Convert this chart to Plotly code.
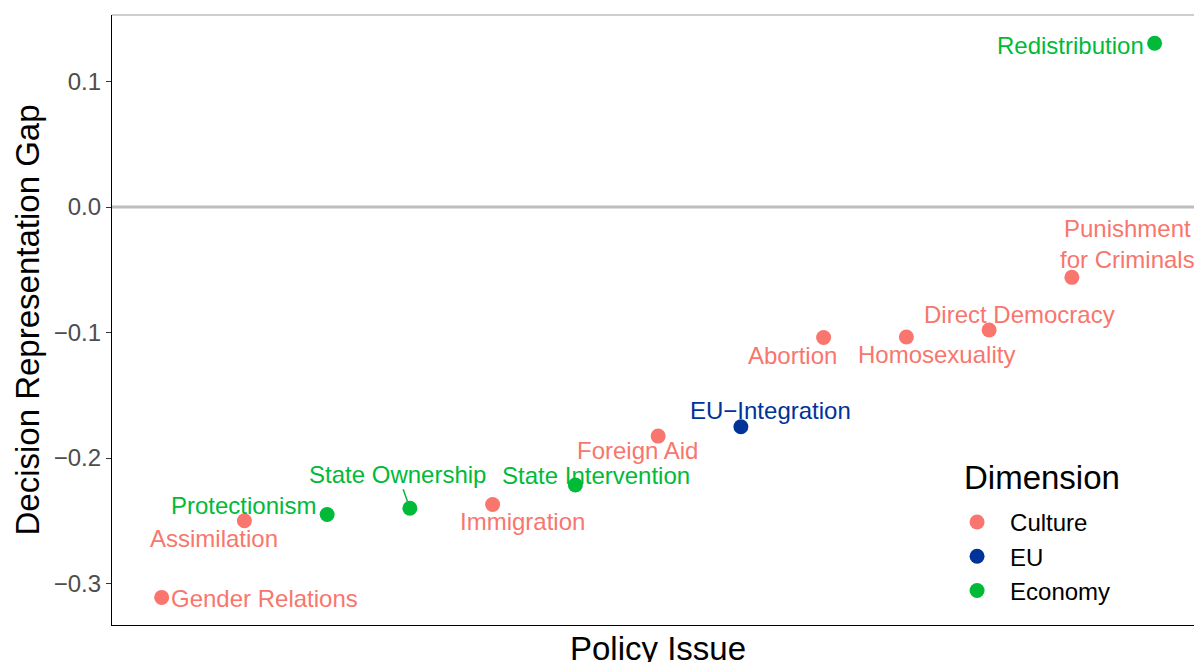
import plotly.graph_objects as go

# Policy issues ordered from the largest negative gap to the largest positive one
issues = [
    "Gender Relations", "Assimilation", "Protectionism", "State Ownership",
    "Immigration", "State Intervention", "Foreign Aid", "EU-Integration",
    "Abortion", "Homosexuality", "Direct Democracy",
    "Punishment for Criminals", "Redistribution",
]
gap = [
    -0.311, -0.250, -0.245, -0.240,
    -0.237, -0.2215, -0.1825, -0.175,
    -0.104, -0.1035, -0.098,
    -0.056, 0.1305,
]
dimension = [
    "Culture", "Culture", "Economy", "Economy",
    "Culture", "Economy", "Culture", "EU",
    "Culture", "Culture", "Culture",
    "Culture", "Economy",
]
dimension_order = ["Culture", "EU", "Economy"]

# Text shown next to each point
label_text = {
    "EU-Integration": "EU\u2212Integration",
    "Punishment for Criminals": "Punishment<br>for Criminals",
}

# Label placement (pixel offsets from the point: dx right, dy down)
label_offset = {
    "Gender Relations": (103, 1),
    "Assimilation": (-30, 18),
    "Protectionism": (-84, -9),
    "Immigration": (30, 17),
    "State Intervention": (21, -10),
    "Foreign Aid": (-21, 14),
    "EU-Integration": (30, -16),
    "Abortion": (-31, 18),
    "Homosexuality": (30, 18),
    "Direct Democracy": (30, -16),
    "Punishment for Criminals": (56, -33),
    "Redistribution": (-84, 2),
}
# Labels joined to their point by a short segment
label_leader = {"State Ownership": (-12, -34)}

colors = {"Culture": "#F8766D", "EU": "#003399", "Economy": "#00BA38"}
FONT = "Liberation Sans, Arial, Helvetica, sans-serif"
TITLE_SIZE = 33

fig = go.Figure()

for dim in dimension_order:
    xs = [i for i, d in zip(issues, dimension) if d == dim]
    ys = [g for g, d in zip(gap, dimension) if d == dim]
    fig.add_trace(go.Scatter(
        x=xs, y=ys, mode="markers", name=dim,
        marker=dict(size=15, color=colors[dim]),
        hoverinfo="x+y",
    ))

annotations = []
for issue, g, dim in zip(issues, gap, dimension):
    text = label_text.get(issue, issue)
    font = dict(family=FONT, size=24, color=colors[dim])
    if issue in label_leader:
        ax, ay = label_leader[issue]
        annotations.append(dict(
            x=issue, y=g, xref="x", yref="y", text=text, font=font,
            showarrow=True, arrowhead=0, arrowwidth=1.5,
            arrowcolor=colors[dim], ax=ax, ay=ay, standoff=7,
        ))
    else:
        dx, dy = label_offset[issue]
        annotations.append(dict(
            x=issue, y=g, xref="x", yref="y", text=text, font=font,
            showarrow=False, xanchor="center", yanchor="middle",
            xshift=dx, yshift=-dy,
        ))

# x-axis title, centred under the full panel
annotations.append(dict(
    x=0.5046, y=0, xref="paper", yref="paper", text="Policy Issue",
    showarrow=False, xanchor="center", yanchor="middle", yshift=-23,
    font=dict(family=FONT, size=TITLE_SIZE, color="black"),
))
# heading of the legend box
annotations.append(dict(
    x=0.7856, y=0.241, xref="paper", yref="paper", text="Dimension",
    showarrow=False, xanchor="left", yanchor="middle",
    font=dict(family=FONT, size=TITLE_SIZE, color="black"),
))

fig.update_layout(
    width=1194, height=662,
    margin=dict(l=112, r=0, t=15, b=37),
    paper_bgcolor="white", plot_bgcolor="white",
    font=dict(family=FONT),
    annotations=annotations,
    shapes=[
        dict(type="line", xref="paper", x0=0, x1=1, yref="y", y0=0, y1=0,
             line=dict(color="#BEBEBE", width=3), layer="below"),
        dict(type="line", xref="paper", x0=0, x1=1, yref="paper", y0=1, y1=1,
             line=dict(color="#BEBEBE", width=1.5), layer="below"),
    ],
    legend=dict(
        font=dict(family=FONT, size=24, color="black"),
        x=0.769, y=0.205, xanchor="left", yanchor="top",
        bgcolor="rgba(0,0,0,0)", itemwidth=56,
    ),
    xaxis=dict(
        type="category", categoryorder="array", categoryarray=issues,
        range=[-0.6, 12.476], showticklabels=False, ticks="",
        showline=True, linecolor="black", linewidth=1.2,
        showgrid=False, zeroline=False,
    ),
    yaxis=dict(
        range=[-0.333, 0.153],
        tickvals=[-0.3, -0.2, -0.1, 0.0, 0.1],
        ticktext=["\u22120.3", "\u22120.2", "\u22120.1", "0.0", "0.1"],
        ticks="outside", ticklen=5, tickwidth=1, tickcolor="#333333",
        tickfont=dict(family=FONT, size=24, color="#4D4D4D"),
        showline=True, linecolor="black", linewidth=1.2,
        showgrid=False, zeroline=False,
        title=dict(text="Decision Representation Gap", standoff=4,
                   font=dict(family=FONT, size=TITLE_SIZE, color="black")),
    ),
)

fig.write_html("out.html")
